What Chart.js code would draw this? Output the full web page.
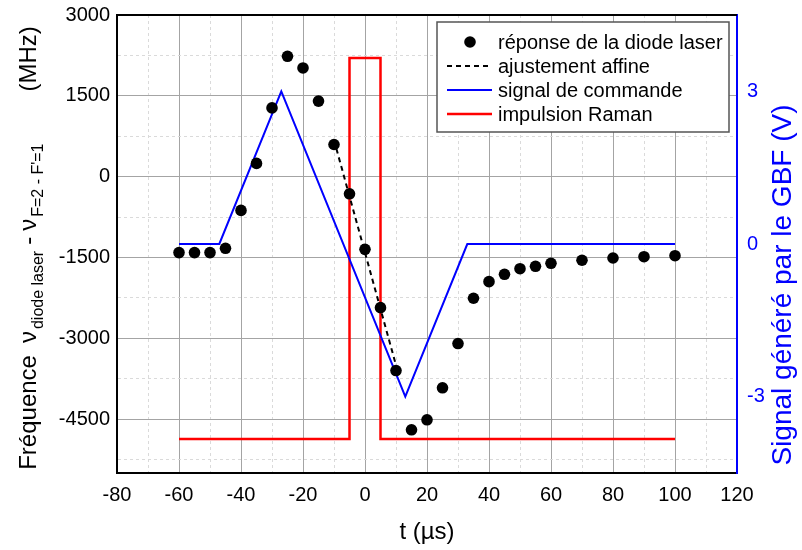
<!DOCTYPE html>
<html>
<head>
<meta charset="utf-8">
<script src="https://cdn.jsdelivr.net/npm/chart.js@4.4.1/dist/chart.umd.min.js"></script>
<style>
  html, body { margin: 0; padding: 0; background: #fff; }
  #wrap { width: 802px; height: 550px; }
</style>
</head>
<body>
<div id="wrap"><canvas id="chart" width="802" height="550"></canvas></div>
<script>
// Mesures : temps (µs) et fréquence (MHz)
const tempsMesure = [-60, -55, -50, -45, -40, -35, -30, -25, -20, -15, -10, -5, 0, 5, 10,
  15, 20, 25, 30, 35, 40, 45, 50, 55, 60, 70, 80, 90, 100];
const freqMesure = [-1410, -1410, -1410, -1330, -626, 246, 1276, 2234, 2017, 1402, 597, -318, -1349, -2431, -3599,
  -4698, -4513, -3919, -3098, -2257, -1949, -1812, -1708, -1664, -1608, -1552, -1510, -1486, -1467];

// Ajustement affine
const tempsAjust = [-10, 10];
const freqAjust = [680, -3500];

// Signal de commande (V)
const tempsCommande = [-60, -47, -27, 13, 33, 100];
const signalCommande = [0, 0, 3, -3, 0, 0];

// Impulsion Raman
const tempsRaman = [-60, -5, -5, 5, 5, 100];
const freqRaman = [-4870, -4870, 2200, 2200, -4870, -4870];

// Graduations
const xTicks = [-80, -60, -40, -20, 0, 20, 40, 60, 80, 100, 120];
const xGrid = [-80, -70, -60, -50, -40, -30, -20, -10, 0, 10, 20, 30, 40, 50, 60, 70, 80, 90, 100, 110, 120];
const yTicks = [-4500, -3000, -1500, 0, 1500, 3000];
const yGrid = [-5250, -4500, -3750, -3000, -2250, -1500, -750, 0, 750, 1500, 2250, 3000];
const y2Ticks = [-3, 0, 3];

const FONT = "'Liberation Sans', Arial, sans-serif";

function pts(xs, ys) {
  return xs.map(function(x, i) { return { x: x, y: ys[i] }; });
}

function isMajor(list, v) { return list.indexOf(v) !== -1; }

// pas de marge automatique en haut/bas pour les axes verticaux
function fitVertical(width) {
  return function(scale) {
    scale.width = width;
    scale.paddingTop = 0;
    scale.paddingBottom = 0;
  };
}

/**
 * Titres des axes (avec indices pour l'axe de gauche)
 */
const titlesPlugin = {
  id: 'titles',
  afterDraw(chart) {
    const ctx = chart.ctx;
    const area = chart.chartArea;
    ctx.save();
    ctx.fillStyle = '#000';
    ctx.textBaseline = 'middle';

    // t (µs)
    ctx.font = '24px ' + FONT;
    ctx.textAlign = 'center';
    ctx.fillText('t (µs)', (area.left + area.right) / 2, 532);

    // axe de gauche : [texte, taille, décalage, espace après]
    const parts = [
      ['Fréquence', 24, 0, 12],
      ['ν', 24, 0, 2],
      ['diode laser', 16, 10, 6],
      ['-', 24, 0, 6],
      ['ν', 24, 0, 2],
      ['F=2 - F\'=1', 16, 10, 52],
      ['(MHz)', 24, 0, 0]
    ];
    let total = 0;
    parts.forEach(function(p) {
      ctx.font = p[1] + 'px ' + FONT;
      total += ctx.measureText(p[0]).width + p[3];
    });
    ctx.save();
    ctx.translate(29, 248);
    ctx.rotate(-Math.PI / 2);
    ctx.textAlign = 'left';
    let pos = -total / 2;
    parts.forEach(function(p) {
      ctx.font = p[1] + 'px ' + FONT;
      ctx.fillText(p[0], pos, p[2]);
      pos += ctx.measureText(p[0]).width + p[3];
    });
    ctx.restore();

    // axe de droite
    ctx.save();
    ctx.fillStyle = '#0000ff';
    ctx.font = '28px ' + FONT;
    ctx.textAlign = 'center';
    ctx.translate(783, 285);
    ctx.rotate(-Math.PI / 2);
    ctx.fillText('Signal généré par le GBF (V)', 0, 0);
    ctx.restore();

    // bord supérieur
    ctx.strokeStyle = '#000';
    ctx.lineWidth = 2;
    ctx.beginPath();
    ctx.moveTo(area.left, area.top);
    ctx.lineTo(area.right, area.top);
    ctx.stroke();
    ctx.restore();
  }
};

/**
 * Légende encadrée dans la zone du graphique
 */
const legendPlugin = {
  id: 'boxLegend',
  afterDatasetsDraw(chart) {
    const ctx = chart.ctx;
    const x0 = 437, y0 = 22, w = 292, h = 110;
    ctx.save();
    ctx.fillStyle = '#fff';
    ctx.fillRect(x0, y0, w, h);
    ctx.strokeStyle = '#555';
    ctx.lineWidth = 1.5;
    ctx.strokeRect(x0, y0, w, h);
    ctx.font = '20px ' + FONT;
    ctx.textBaseline = 'middle';
    ctx.textAlign = 'left';
    chart.data.datasets.forEach(function(ds, i) {
      const y = y0 + 20 + i * 24;
      if (ds.showLine) {
        ctx.strokeStyle = ds.borderColor;
        ctx.lineWidth = ds.borderWidth;
        ctx.setLineDash(ds.borderDash || []);
        ctx.beginPath();
        ctx.moveTo(447, y);
        ctx.lineTo(492, y);
        ctx.stroke();
        ctx.setLineDash([]);
      } else {
        ctx.fillStyle = ds.backgroundColor;
        ctx.beginPath();
        ctx.arc(470, y, ds.pointRadius, 0, Math.PI * 2);
        ctx.fill();
      }
      ctx.fillStyle = '#000';
      ctx.fillText(ds.label, 498, y + 1);
    });
    ctx.restore();
  }
};

new Chart(document.getElementById('chart'), {
  type: 'scatter',
  data: {
    datasets: [
      {
        label: 'réponse de la diode laser',
        data: pts(tempsMesure, freqMesure),
        yAxisID: 'y',
        showLine: false,
        pointRadius: 5.8,
        backgroundColor: '#000',
        borderColor: '#000',
        borderWidth: 0,
        order: 0
      },
      {
        label: 'ajustement affine',
        data: pts(tempsAjust, freqAjust),
        yAxisID: 'y',
        showLine: true,
        pointRadius: 0,
        borderColor: '#000',
        borderWidth: 2,
        borderDash: [5, 4],
        order: 1
      },
      {
        label: 'signal de commande',
        data: pts(tempsCommande, signalCommande),
        yAxisID: 'y2',
        showLine: true,
        pointRadius: 0,
        borderColor: '#0000ff',
        borderWidth: 2,
        order: 2
      },
      {
        label: 'impulsion Raman',
        data: pts(tempsRaman, freqRaman),
        yAxisID: 'y',
        showLine: true,
        pointRadius: 0,
        borderColor: '#ff0000',
        borderWidth: 2.5,
        order: 3
      }
    ]
  },
  options: {
    responsive: false,
    animation: false,
    layout: { padding: { top: 15, left: 0, right: 0, bottom: 0 } },
    plugins: {
      legend: { display: false },
      tooltip: { enabled: false }
    },
    scales: {
      x: {
        type: 'linear',
        min: -80,
        max: 120,
        afterBuildTicks: function(scale) {
          scale.ticks = xGrid.map(function(v) { return { value: v }; });
        },
        afterFit: function(scale) { scale.height = 77; },
        ticks: {
          autoSkip: false,
          maxRotation: 0,
          padding: 10,
          color: '#000',
          font: { size: 20, family: FONT },
          callback: function(v) { return isMajor(xTicks, v) ? String(v) : ''; }
        },
        grid: {
          drawTicks: false,
          lineWidth: 1,
          color: function(c) { return c.tick && isMajor(xTicks, c.tick.value) ? '#a4a4a4' : '#dadada'; }
        },
        border: {
          color: '#000',
          width: 2,
          dash: function(c) { return c.tick && !isMajor(xTicks, c.tick.value) ? [3, 3] : []; }
        }
      },
      y: {
        type: 'linear',
        position: 'left',
        min: -5500,
        max: 3000,
        afterBuildTicks: function(scale) {
          scale.ticks = yGrid.map(function(v) { return { value: v }; });
        },
        afterFit: fitVertical(117),
        ticks: {
          autoSkip: false,
          padding: 7,
          color: '#000',
          font: { size: 20, family: FONT },
          callback: function(v) { return isMajor(yTicks, v) ? String(v) : ''; }
        },
        grid: {
          drawTicks: false,
          lineWidth: 1,
          color: function(c) { return c.tick && isMajor(yTicks, c.tick.value) ? '#a4a4a4' : '#dadada'; }
        },
        border: {
          color: '#000',
          width: 2,
          dash: function(c) { return c.tick && !isMajor(yTicks, c.tick.value) ? [3, 3] : []; }
        }
      },
      y2: {
        type: 'linear',
        position: 'right',
        min: -4.5,
        max: 4.5,
        afterBuildTicks: function(scale) {
          scale.ticks = y2Ticks.map(function(v) { return { value: v }; });
        },
        afterFit: fitVertical(65),
        ticks: {
          autoSkip: false,
          padding: 10,
          color: '#0000ff',
          font: { size: 20, family: FONT }
        },
        grid: { display: false, drawTicks: false },
        border: { color: '#0000ff', width: 2 }
      }
    }
  },
  plugins: [legendPlugin, titlesPlugin]
});
</script>
</body>
</html>
